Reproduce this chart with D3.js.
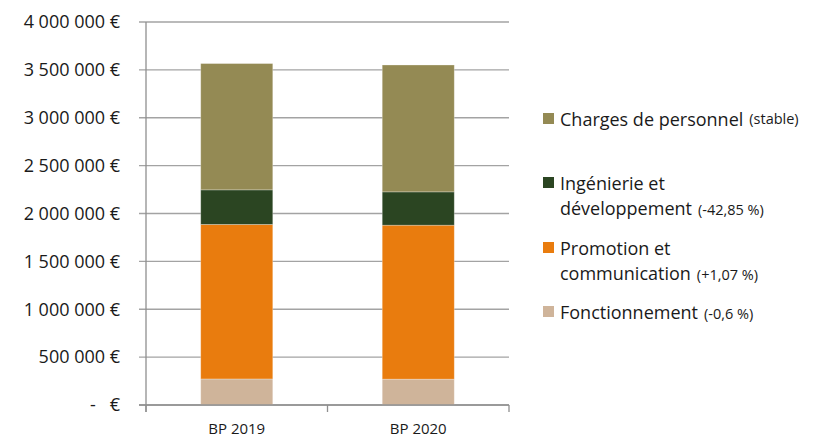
<!DOCTYPE html>
<html>
<head>
<meta charset="utf-8">
<script src="https://cdn.jsdelivr.net/npm/d3@7"></script>
<style>
  body { margin: 0; background: #fff; }
  text { font-family: "Open Sans", sans-serif; fill: #1a1a1a; }
</style>
</head>
<body>
<svg id="chart" width="814" height="438"></svg>
<script>
// budget par poste
var categories = ["BP 2019", "BP 2020"];
var series = ["Fonctionnement", "Promotion et communication", "Ingénierie et développement", "Charges de personnel"];
var fonctionnement = [272000, 270000];
var promotion = [1614000, 1608000];
var ingenierie = [361000, 348000];
var personnel = [1319000, 1325000];
var yTicks = [0, 500000, 1000000, 1500000, 2000000, 2500000, 3000000, 3500000, 4000000];

// legende (ordre du haut vers le bas)
var legendLines = [
    ["Charges de personnel"],
    ["Ingénierie et", "développement"],
    ["Promotion et", "communication"],
    ["Fonctionnement"]
];
var legendNotes = ["(stable)", "(-42,85 %)", "(+1,07 %)", "(-0,6 %)"];
var colors = ["#cfb49a", "#e97c0e", "#2b4522", "#948a54"];

var svg = d3.select("svg#chart");

var rows = categories.map(function (c, i) {
    return {
        cat: c,
        "Fonctionnement": fonctionnement[i],
        "Promotion et communication": promotion[i],
        "Ingénierie et développement": ingenierie[i],
        "Charges de personnel": personnel[i]
    };
});

var stacked = d3.stack().keys(series)(rows);

var y = d3.scaleLinear().domain([0, 4000000]).range([405, 22]);
var p = 0.603;
var x = d3.scaleBand().domain(categories).range([146, 509])
    .paddingInner(p).paddingOuter(p / 2);

var color = d3.scaleOrdinal().domain(series).range(colors);

// grid
svg.append("g").selectAll("line")
    .data(yTicks)
    .join("line")
    .attr("x1", 139).attr("x2", 509)
    .attr("y1", d => y(d)).attr("y2", d => y(d))
    .attr("stroke", "#a3a3a3")
    .attr("stroke-width", 1.3);

// y labels
var fmt = function (d) {
    if (d === 0) return "-\u00a0\u00a0\u00a0€";
    return d3.format(",")(d).replace(/,/g, "\u00a0") + "\u00a0€";
};
svg.append("g").selectAll("text")
    .data(yTicks)
    .join("text")
    .attr("x", 120)
    .attr("y", d => y(d))
    .attr("dy", "0.35em")
    .attr("text-anchor", "end")
    .style("font-size", "18px")
    .text(fmt);

// bars
svg.append("g").selectAll("g")
    .data(stacked)
    .join("g")
    .attr("fill", d => color(d.key))
    .selectAll("rect")
    .data(d => d)
    .join("rect")
    .attr("x", d => x(d.data.cat))
    .attr("width", x.bandwidth())
    .attr("y", d => y(d[1]))
    .attr("height", d => y(d[0]) - y(d[1]))
    .attr("stroke", "rgba(255,255,255,0.35)")
    .attr("stroke-width", 0.8);

// axes lines
svg.append("line")
    .attr("x1", 146).attr("x2", 146)
    .attr("y1", y(4000000)).attr("y2", 412)
    .attr("stroke", "#8f8f8f").attr("stroke-width", 1.3);
svg.append("line")
    .attr("x1", 139).attr("x2", 509)
    .attr("y1", y(0)).attr("y2", y(0))
    .attr("stroke", "#8f8f8f").attr("stroke-width", 1.3);

var bounds = [x.range()[0]].concat(categories.map(function (c) {
    return x(c) + x.bandwidth() + x.step() * p / 2;
}));
svg.append("g").selectAll("line")
    .data(bounds)
    .join("line")
    .attr("x1", d => d).attr("x2", d => d)
    .attr("y1", y(0)).attr("y2", 412)
    .attr("stroke", "#8f8f8f").attr("stroke-width", 1.3);

svg.append("g").selectAll("text")
    .data(categories)
    .join("text")
    .attr("x", d => x(d) + x.bandwidth() / 2)
    .attr("y", 434)
    .attr("text-anchor", "middle")
    .style("font-size", "15px")
    .text(d => d);

// legend
var legendTop = [113, 177, 242, 306];
var legendColors = colors.slice().reverse();
var lg = svg.append("g").selectAll("g")
    .data(legendLines)
    .join("g");

lg.append("rect")
    .attr("x", 543)
    .attr("y", (d, i) => legendTop[i])
    .attr("width", 11).attr("height", 11)
    .attr("fill", (d, i) => legendColors[i]);

lg.each(function (lines, i) {
    var t = d3.select(this).append("text")
        .attr("x", 560)
        .attr("y", legendTop[i] + 12.5)
        .style("font-size", "18px");
    lines.forEach(function (l, j) {
        t.append("tspan")
            .attr("x", 560)
            .attr("dy", j === 0 ? 0 : 25.5)
            .text(l);
    });
    t.append("tspan")
        .attr("dx", 6)
        .attr("dy", i === 0 ? -2 : 0)
        .style("font-size", "14.5px")
        .text(legendNotes[i]);
});
</script>
</body>
</html>
